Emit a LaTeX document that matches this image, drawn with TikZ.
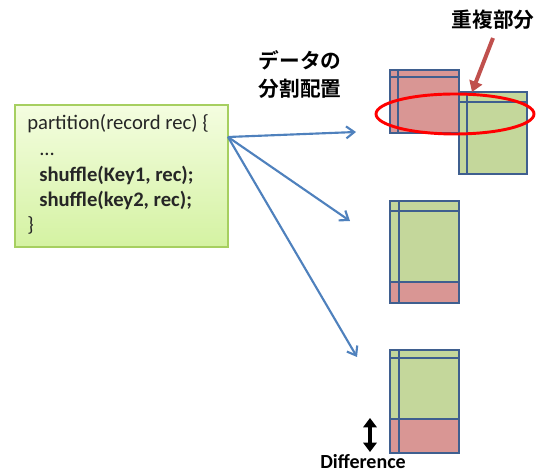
\documentclass[tikz,border=0pt]{standalone}
\usepackage{fontspec}
\setmainfont{Carlito}
\newfontfamily\jpfont{Noto Sans CJK JP}[BoldFont=* Bold]
\usetikzlibrary{arrows.meta,shapes.geometric}
\definecolor{blockblue}{HTML}{3F5F8F}
\definecolor{fillgreen}{HTML}{C4D79B}
\definecolor{fillpink}{HTML}{D99694}
\definecolor{linkblue}{HTML}{4F81BD}
\definecolor{codetop}{HTML}{F4FDE0}
\definecolor{codebot}{HTML}{D4F2A2}
\definecolor{codeedge}{HTML}{A6CF60}
\definecolor{pointred}{HTML}{C0504D}
\tikzset{
  px/.style={x=0.75pt,y=-0.75pt},
  block/.style={draw=blockblue,line width=2pt},
  divider/.style={draw=blockblue,line width=1.6pt},
  link/.style={draw=linkblue,line width=1.6pt,-{Straight Barb[length=6pt,width=9pt]}},
  codeline/.style={anchor=base west,inner sep=0pt,font=\fontsize{15.5}{18}\selectfont,text=black!85},
  codebold/.style={codeline,font=\fontsize{15.5}{18}\selectfont\bfseries},
  jplabel/.style={font=\jpfont\bfseries\fontsize{15.5}{21}\selectfont,align=center,inner sep=0pt}
}
\begin{document}
\begin{tikzpicture}[px]
\useasboundingbox (0,0) rectangle (540,473);

% source code box
\shade[top color=codetop,bottom color=codebot] (15,105) rectangle (228,247);
\draw[codeedge,line width=1pt] (15,105) rectangle (228,247);
\coordinate (src) at (228,137);
\node[codeline] (l1) at (27,130) {partition(record rec) \{};
\node[codeline] (l2) at (39,156) {...};
\node[codebold] (l3) at (39,182) {shuffle(Key1, rec);};
\node[codebold] (l4) at (39,207) {shuffle(key2, rec);};
\node[codeline] (l5) at (27,232) {\}};

% caption over the arrows
\node[jplabel] (cap) at (300,75) {データの\\分割配置};

% top: two overlapping blocks
\fill[fillpink] (390,70) rectangle (459,133);
\draw[block] (390,70) rectangle (459,133);
\draw[divider] (390,77) -- (459,77);
\draw[divider] (398,70) -- (398,133);
\fill[fillgreen] (459,92) rectangle (527,174);
\draw[block] (459,92) rectangle (527,174);
\draw[divider] (459,102) -- (527,102);
\draw[divider] (467,92) -- (467,174);
\node[draw=red,line width=2.2pt,ellipse,minimum width=158*0.75pt,minimum height=40*0.75pt,inner sep=0pt] (ov) at (455,114) {};
\coordinate (t1) at (356,132);

% middle block
\fill[fillgreen] (390,201) rectangle (459,282);
\fill[fillpink] (390,282) rectangle (459,303);
\draw[block] (390,201) rectangle (459,303);
\draw[divider] (390,211) -- (459,211);
\draw[divider] (390,282) -- (459,282);
\draw[divider] (399,201) -- (399,303);
\coordinate (t2) at (350,221);

% bottom block
\fill[fillgreen] (390,350) rectangle (459,419);
\fill[fillpink] (390,419) rectangle (459,453);
\draw[block] (390,350) rectangle (459,453);
\draw[divider] (390,358) -- (459,358);
\draw[divider] (390,419) -- (459,419);
\draw[divider] (399,350) -- (399,453);
\coordinate (t3) at (357,357);

% distribution arrows
\draw[link] (src) -- (t1);
\draw[link] (src) -- (t2);
\draw[link] (src) -- (t3);

% overlap label and pointer
\node[jplabel] (ovl) at (493,20) {重複部分};
\coordinate (p0) at (493,38);
\coordinate (p1) at (472,92);
\draw[pointred,line width=3pt,-{Triangle[length=8pt,width=10pt]}] (p0) -- (p1);

% difference marker
\coordinate (d0) at (370,418);
\coordinate (d1) at (370,452);
\draw[black,line width=3pt,{Triangle[length=7pt,width=10pt]}-{Triangle[length=7pt,width=10pt]}] (d0) -- (d1);
\node[font=\fontsize{15}{18}\selectfont\bfseries,inner sep=0pt] (diff) at (363,462) {Difference};
\end{tikzpicture}
\end{document}
